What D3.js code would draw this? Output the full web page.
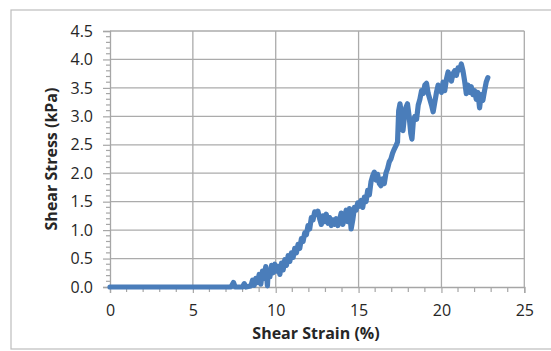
<!DOCTYPE html>
<html><head><meta charset="utf-8">
<script src="https://d3js.org/d3.v7.min.js"></script>
<style>body{margin:0;background:#fff;}svg{display:block;}</style>
</head><body>
<script>
// ---- data ----
const strain = [0,7.3,7.45,7.55,8.0,8.1,8.2,8.5,8.6,8.7,8.8,8.9,9.0,9.1,9.2,9.3,9.4,9.5,9.55,9.65,9.75,9.85,9.95,10.05,10.15,10.25,10.35,10.45,10.55,10.65,10.75,10.85,10.95,11.05,11.15,11.25,11.35,11.45,11.55,11.65,11.75,11.85,11.95,12.05,12.15,12.25,12.35,12.45,12.55,12.65,12.75,12.85,12.95,13.05,13.15,13.25,13.35,13.45,13.55,13.65,13.75,13.85,13.95,14.05,14.15,14.25,14.35,14.45,14.55,14.65,14.75,14.85,14.95,15.05,15.15,15.25,15.35,15.45,15.55,15.65,15.75,15.85,15.95,16.05,16.15,16.25,16.35,16.45,16.55,16.65,16.75,16.85,16.95,17.05,17.15,17.25,17.35,17.42,17.5,17.58,17.68,17.75,17.85,17.95,18.05,18.15,18.22,18.3,18.4,18.5,18.6,18.7,18.8,18.9,19.0,19.1,19.2,19.3,19.4,19.5,19.6,19.7,19.8,19.9,20.0,20.1,20.2,20.3,20.4,20.5,20.6,20.7,20.8,20.9,21.0,21.1,21.2,21.3,21.4,21.5,21.6,21.7,21.8,21.9,22.0,22.1,22.2,22.3,22.4,22.5,22.6,22.7,22.8];
const stress = [0,0,0.08,0,0,0.06,0,0.02,0.12,0.03,0.15,0.08,0.22,0.05,0.28,0.15,0.36,0.02,0.3,0.18,0.38,0.25,0.4,0.28,0.36,0.22,0.42,0.3,0.48,0.38,0.55,0.45,0.6,0.52,0.68,0.6,0.75,0.68,0.85,0.8,0.95,0.92,1.08,1.02,1.22,1.18,1.32,1.28,1.33,1.2,1.1,1.25,1.15,1.28,1.12,1.22,1.08,1.18,1.1,1.2,1.08,1.18,1.3,1.1,1.22,1.35,1.15,1.38,1.02,1.18,1.4,1.35,1.48,1.42,1.52,1.4,1.58,1.5,1.7,1.62,1.85,1.95,2.02,1.88,1.98,1.82,1.78,1.9,1.82,2.0,2.08,2.2,2.25,2.35,2.42,2.48,2.55,3.1,3.22,3.05,2.75,2.95,3.15,3.22,3.0,2.7,2.6,2.9,3.0,2.95,3.2,3.3,3.45,3.4,3.55,3.58,3.4,3.3,3.2,3.08,3.25,3.42,3.55,3.5,3.42,3.6,3.45,3.65,3.78,3.7,3.62,3.75,3.8,3.72,3.85,3.82,3.92,3.8,3.62,3.4,3.55,3.42,3.52,3.38,3.45,3.3,3.42,3.15,3.38,3.28,3.45,3.6,3.68];
const xTicks = [0,5,10,15,20,25];
const yTicks = [0,0.5,1.0,1.5,2.0,2.5,3.0,3.5,4.0,4.5];
const xTitle = "Shear Strain (%)";
const yTitle = "Shear Stress (kPa)";

const W = 551, H = 351;
const L = 110, R = 524.3, T = 31, B = 287;
const font = "'Open Sans', 'Liberation Sans', sans-serif";

const svg = d3.select("body").append("svg").attr("width", W).attr("height", H);

// outer chart border
svg.append("rect").attr("x", 11).attr("y", 10).attr("width", 560).attr("height", 339)
  .attr("fill", "#fff").attr("stroke", "#bdbdbd").attr("stroke-width", 1.2);

const x = d3.scaleLinear().domain([0, 25]).range([L, R]);
const y = d3.scaleLinear().domain([0, 4.5]).range([B, T]);

const grid = svg.append("g").attr("stroke", "#ababab").attr("stroke-width", 1.3);
grid.selectAll("line.h").data(yTicks.filter(d => d > 0)).join("line")
  .attr("x1", L).attr("x2", R).attr("y1", d => y(d)).attr("y2", d => y(d));
grid.selectAll("line.v").data(xTicks.filter(d => d > 0)).join("line")
  .attr("y1", T).attr("y2", B).attr("x1", d => x(d)).attr("x2", d => x(d));

// y axis
const yAxis = d3.axisLeft(y).tickValues(yTicks).tickFormat(d3.format(".1f")).tickSize(7).tickPadding(10);
const gy = svg.append("g").attr("transform", `translate(${L},0)`).call(yAxis);
const yMinor = d3.range(0, 46).map(i => i / 10).filter(v => Math.round(v * 10) % 5 !== 0);
gy.selectAll("line.minor").data(yMinor).join("line").attr("class", "minor")
  .attr("x1", -4).attr("x2", 0).attr("y1", d => y(d)).attr("y2", d => y(d));

// x axis
const xAxis = d3.axisBottom(x).tickValues(xTicks).tickSize(6).tickPadding(12);
const gx = svg.append("g").attr("transform", `translate(0,${B})`).call(xAxis);
const xMinor = d3.range(0, 26).filter(v => v % 5 !== 0);
gx.selectAll("line.minor").data(xMinor).join("line").attr("class", "minor")
  .attr("x1", d => x(d)).attr("x2", d => x(d)).attr("y1", 0).attr("y2", 5);

[gx, gy].forEach(g => {
  g.select(".domain").attr("stroke", "#a6a6a6").attr("stroke-width", 1.3);
  g.selectAll("line").attr("stroke", "#a6a6a6").attr("stroke-width", 1.2);
  g.selectAll("text").attr("font-family", font).attr("font-size", 16).attr("fill", "#262626");
});

// data line
const pts = strain.map((s, i) => [s, stress[i]]);
svg.append("path").datum(pts)
  .attr("fill", "none").attr("stroke", "#4a7dba").attr("stroke-width", 5.2)
  .attr("stroke-linejoin", "round").attr("stroke-linecap", "round")
  .attr("d", d3.line().x(d => x(d[0])).y(d => y(d[1])));

// titles
svg.append("text").attr("x", 316).attr("y", 339).attr("text-anchor", "middle")
  .attr("font-family", font).attr("font-weight", "bold").attr("font-size", 16).attr("fill", "#262626")
  .text(xTitle);
svg.append("text").attr("transform", `translate(57,159) rotate(-90)`).attr("text-anchor", "middle")
  .attr("font-family", font).attr("font-weight", "bold").attr("font-size", 16).attr("fill", "#262626")
  .text(yTitle);
</script>
</body></html>
